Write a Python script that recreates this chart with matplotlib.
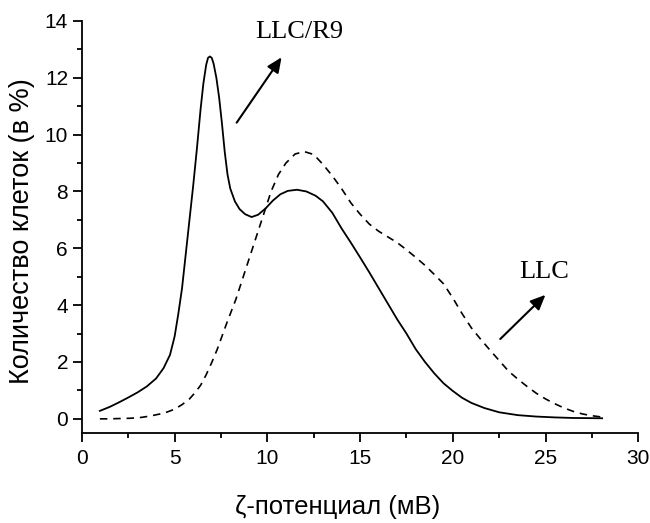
import matplotlib.pyplot as plt
from matplotlib.ticker import MultipleLocator

# LLC/R9 (solid)
x_r9 = [0.97, 1.5, 2.0, 2.5, 3.0, 3.5, 4.0, 4.4, 4.75, 5.0, 5.2, 5.4, 5.6, 5.8,
        6.0, 6.2, 6.4, 6.55, 6.7, 6.8, 6.9, 7.0, 7.1, 7.25, 7.4, 7.55, 7.7,
        7.85, 8.0, 8.25, 8.5, 8.8, 9.15, 9.5, 9.9, 10.3, 10.7, 11.1, 11.6,
        12.1, 12.6, 13.0, 13.5, 14.0, 14.5, 15.0, 15.5, 16.0, 16.5, 17.0,
        17.5, 18.0, 18.5, 19.0, 19.5, 20.0, 20.5, 21.0, 21.7, 22.5, 23.5,
        24.5, 25.5, 26.5, 28.05]
y_r9 = [0.28, 0.42, 0.58, 0.75, 0.93, 1.14, 1.42, 1.78, 2.25, 2.9, 3.7, 4.6,
        5.8, 7.0, 8.2, 9.5, 10.9, 11.8, 12.45, 12.7, 12.75, 12.7, 12.5, 12.0,
        11.3, 10.4, 9.4, 8.6, 8.1, 7.65, 7.38, 7.2, 7.1, 7.18, 7.4, 7.68,
        7.9, 8.02, 8.06, 8.0, 7.85, 7.65, 7.25, 6.7, 6.2, 5.68, 5.15, 4.6,
        4.05, 3.5, 3.0, 2.45, 2.0, 1.6, 1.25, 0.98, 0.74, 0.56, 0.38, 0.23,
        0.13, 0.08, 0.05, 0.03, 0.02]

# LLC (dashed)
x_llc = [0.97, 1.5, 2.0, 2.6, 3.2, 3.7, 4.2, 4.6, 5.0, 5.4, 5.8, 6.1, 6.4,
         6.7, 7.0, 7.3, 7.8, 8.3, 8.8, 9.3, 9.8, 10.2, 10.6, 11.0, 11.5,
         12.0, 12.5, 13.0, 13.5, 14.0, 14.5, 15.0, 15.5, 16.0, 16.5, 17.0,
         17.5, 18.0, 18.5, 19.0, 19.5, 20.0, 20.5, 21.0, 21.5, 22.0, 22.5,
         23.0, 23.5, 24.0, 24.5, 25.0, 25.5, 26.0, 26.5, 27.0, 27.5, 27.95]
y_llc = [0.0, 0.0, 0.01, 0.02, 0.05, 0.1, 0.17, 0.24, 0.34, 0.5, 0.7, 0.92,
         1.18, 1.55, 1.98, 2.45, 3.35, 4.2, 5.2, 6.2, 7.2, 8.0, 8.6, 9.0, 9.32,
         9.4, 9.3, 8.95, 8.55, 8.1, 7.6, 7.2, 6.85, 6.6, 6.4, 6.2,
         5.95, 5.68, 5.4, 5.08, 4.75, 4.25, 3.7, 3.2, 2.8, 2.42, 2.05,
         1.68, 1.4, 1.14, 0.9, 0.7, 0.53, 0.38, 0.26, 0.17, 0.11, 0.07]

plt.rcParams['font.family'] = ['Liberation Sans', 'DejaVu Sans']

fig = plt.figure(figsize=(6.5, 5.23), dpi=100)
ax = fig.add_axes([0.126, 0.172, 0.856, 0.788])

ax.plot(x_r9, y_r9, color='black', lw=1.3)
ax.plot(x_llc, y_llc, color='black', lw=1.2, dashes=[4.5, 3.5])

ax.set_xlim(0, 30)
ax.set_ylim(-0.5, 14)
ax.xaxis.set_major_locator(MultipleLocator(5))
ax.xaxis.set_minor_locator(MultipleLocator(2.5))
ax.yaxis.set_major_locator(MultipleLocator(2))
ax.yaxis.set_minor_locator(MultipleLocator(1))

for s in ['top', 'right']:
    ax.spines[s].set_visible(False)
for s in ['left', 'bottom']:
    ax.spines[s].set_linewidth(1.3)

ax.tick_params(which='major', direction='out', length=6.5, width=1.3, labelsize=15)
ax.tick_params(axis='x', which='major', pad=5)
ax.tick_params(axis='y', which='major', pad=3.5)
ax.tick_params(which='minor', direction='out', length=3.6, width=1.3)

ax.set_xlabel('ζ-потенциал (мВ)', fontsize=18.5)
ax.set_ylabel('Количество клеток (в %)', fontsize=19.5)
ax.xaxis.set_label_coords(0.46, -0.15)
ax.yaxis.set_label_coords(-0.085, 0.49)

arrow = dict(arrowstyle='-|>,head_length=0.9,head_width=0.4', color='black', lw=1.5)
ax.annotate('', xy=(10.85, 12.8), xytext=(8.26, 10.34), arrowprops=arrow)
ax.annotate('', xy=(25.1, 4.43), xytext=(22.45, 2.74), arrowprops=arrow)
ax.text(11.7, 13.6, 'LLC/R9', fontsize=19, family='Liberation Serif',
        ha='center', va='center')
ax.text(24.9, 5.17, 'LLC', fontsize=19, family='Liberation Serif',
        ha='center', va='center')

fig.savefig('out.png', dpi=100)
